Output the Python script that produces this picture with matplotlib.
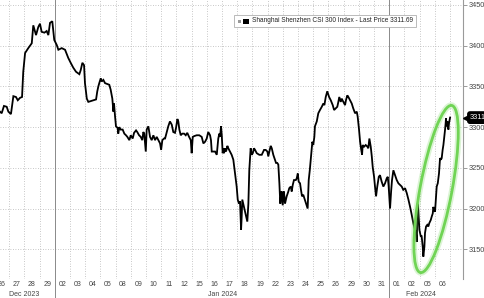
import matplotlib
matplotlib.use('Agg')
import matplotlib.pyplot as plt
from matplotlib.patches import Ellipse, Rectangle
from matplotlib.transforms import IdentityTransform, blended_transform_factory

# ---- data (time in trading-day units, day k spans [k, k+1]) ----
t = [0.40,0.51,0.66,0.84,0.95,1.12,1.28,1.45,1.57,1.72,
     1.85,1.93,2.05,2.26,2.49,2.59,2.77,2.92,3.03,3.14,
     3.32,3.47,3.58,3.69,3.84,3.97,4.13,4.24,4.46,4.68,
     4.89,5.05,5.22,5.40,5.62,5.71,5.82,5.93,5.99,6.11,
     6.21,6.54,6.72,6.80,6.87,6.93,7.03,7.09,7.20,7.31,
     7.46,7.59,7.68,7.79,7.86,7.90,7.97,8.03,8.14,8.18,
     8.25,8.34,8.47,8.58,8.69,8.78,8.91,9.00,9.13,9.22,
     9.35,9.43,9.55,9.66,9.76,9.83,9.89,9.99,10.05,10.16,
     10.27,10.38,10.49,10.60,10.71,10.82,10.93,11.00,11.08,11.19,
     11.26,11.37,11.47,11.58,11.70,11.80,11.91,11.98,12.07,12.13,
     12.20,12.29,12.39,12.51,12.62,12.72,12.84,12.95,13.01,13.08,
     13.18,13.34,13.51,13.67,13.78,13.89,14.00,14.10,14.22,14.28,
     14.33,14.55,14.66,14.76,14.83,14.88,14.94,14.99,15.05,15.09,
     15.14,15.20,15.27,15.36,15.42,15.53,15.64,15.75,15.86,15.97,
     16.04,16.12,16.19,16.26,16.30,16.34,16.45,16.57,16.67,16.74,
     16.80,16.89,16.96,17.03,17.11,17.18,17.29,17.46,17.62,17.77,
     17.88,17.99,18.05,18.12,18.21,18.28,18.38,18.49,18.56,18.64,
     18.71,18.78,18.84,18.89,18.93,19.00,19.07,19.11,19.15,19.26,
     19.37,19.43,19.53,19.59,19.66,19.74,19.86,19.92,19.99,20.05,
     20.14,20.20,20.27,20.35,20.42,20.49,20.58,20.64,20.71,20.78,
     20.84,20.91,20.95,21.01,21.08,21.12,21.24,21.34,21.45,21.57,
     21.67,21.74,21.83,21.93,22.05,22.16,22.29,22.38,22.49,22.59,
     22.66,22.72,22.82,22.88,22.99,23.10,23.16,23.25,23.32,23.43,
     23.54,23.64,23.76,23.87,23.93,24.02,24.09,24.15,24.22,24.26,
     24.35,24.46,24.57,24.63,24.70,24.79,24.86,24.92,25.01,25.07,
     25.14,25.22,25.32,25.40,25.51,25.62,25.73,25.84,25.91,25.97,
     26.01,26.06,26.13,26.19,26.28,26.39,26.50,26.61,26.72,26.83,
     26.93,27.05,27.16,27.27,27.38,27.49,27.59,27.70,27.77,27.82,
     27.88,27.92,27.99,28.08,28.14,28.21,28.25,28.32,28.36,28.43,
     28.51,28.58,28.64,28.74,28.80,28.87,28.91,28.97,29.02,29.07,
     29.13,29.20,29.24,29.28,29.35,29.41,29.46,29.52,29.57,29.63,
     29.68,29.72,29.74,29.79,29.83,29.90,29.94,30.01]

price = [3319,3317,3326,3325,3319,3316,3338,3337,3333,3336,
         3337,3368,3391,3397,3403,3425,3413,3423,3427,3417,
         3416,3418,3413,3428,3430,3407,3401,3395,3397,3395,
         3385,3379,3373,3368,3365,3370,3379,3376,3354,3335,
         3331,3333,3334,3344,3350,3354,3360,3356,3358,3354,
         3353,3352,3346,3335,3319,3329,3313,3301,3299,3292,
         3300,3297,3297,3292,3290,3288,3284,3290,3286,3293,
         3296,3294,3290,3288,3284,3294,3292,3270,3297,3301,
         3288,3284,3290,3284,3288,3284,3280,3272,3284,3286,
         3286,3294,3301,3307,3303,3294,3293,3299,3310,3307,
         3297,3290,3292,3292,3290,3293,3288,3284,3268,3288,
         3289,3290,3290,3288,3280,3282,3286,3294,3290,3284,
         3270,3270,3266,3286,3292,3288,3301,3290,3268,3274,
         3268,3274,3270,3277,3274,3270,3266,3260,3243,3227,
         3211,3206,3209,3174,3190,3211,3202,3192,3184,3206,
         3247,3274,3266,3268,3274,3272,3268,3266,3266,3272,
         3272,3270,3264,3270,3277,3274,3266,3260,3256,3256,
         3254,3231,3206,3217,3221,3204,3221,3215,3206,3215,
         3221,3225,3227,3221,3229,3235,3235,3237,3243,3233,
         3231,3223,3215,3217,3213,3209,3204,3200,3235,3247,
         3260,3274,3282,3278,3288,3301,3307,3317,3321,3325,
         3329,3327,3337,3344,3337,3333,3327,3321,3323,3325,
         3331,3337,3331,3335,3331,3327,3333,3339,3337,3333,
         3329,3323,3317,3319,3313,3297,3282,3274,3266,3278,
         3276,3278,3276,3274,3286,3276,3264,3251,3239,3227,
         3215,3227,3239,3241,3233,3227,3231,3237,3239,3227,
         3215,3200,3221,3235,3247,3241,3235,3231,3229,3227,
         3223,3225,3219,3211,3202,3192,3182,3174,3170,3159,
         3206,3198,3174,3166,3166,3153,3141,3153,3170,3178,
         3180,3178,3182,3186,3190,3194,3202,3198,3196,3211,
         3227,3231,3237,3243,3262,3260,3262,3272,3278,3288,
         3297,3305,3311,3301,3307,3297,3305,3311.69]

day_labels = ['26','27','28','29','02','03','04','05','08','09','10','11','12',
              '15','16','17','18','19','22','23','24','25','26','29','30','31',
              '01','02','05','06']
month_labels = ['Dec 2023', 'Jan 2024', 'Feb 2024']
month_centers = [1.98, 15.07, 28.1]
month_breaks = [4, 26]
yticks = [3150, 3200, 3250, 3300, 3350, 3400, 3450]
last_price = 3311.69
series_name = 'Shanghai Shenzhen CSI 300 Index - Last Price'

plt.rcParams['font.family'] = ['Liberation Sans', 'DejaVu Sans']

W, H = 485, 298
fig = plt.figure(figsize=(W / 100, H / 100), dpi=100)
fig.patch.set_facecolor('white')
ax = fig.add_axes([0, 19 / H, 463 / W, 279 / H])
ax.set_xlim(0.40, 30.86)
ax.set_ylim(3113.5, 3456.1)

for s in ['top', 'left', 'bottom']:
    ax.spines[s].set_visible(False)
ax.spines['right'].set_color('#9a9a9a')
ax.spines['right'].set_linewidth(0.8)

ax.yaxis.tick_right()
ax.set_yticks(yticks)
ax.set_yticklabels([str(v) for v in yticks])
ax.tick_params(axis='y', labelsize=5.3, colors='#9a9a9a', labelcolor='#444444',
               length=3, width=0.7, pad=1.2, direction='out')
ax.set_xticks(range(1, 31))
ax.tick_params(axis='x', length=0, labelbottom=False)
ax.grid(True, which='major', axis='both', linestyle=(0, (1, 2)),
        color='#b5b5b5', linewidth=0.6)
ax.set_axisbelow(True)

xfig = blended_transform_factory(ax.transData, fig.transFigure)
for b in month_breaks:
    ax.plot([b, b], [0, 1], transform=xfig, color='#8a8a8a', lw=0.7,
            clip_on=False, zorder=1)

for i, lab in enumerate(day_labels):
    ax.text(i + 0.5, 1 - 285 / H, lab, transform=xfig, ha='center', va='center',
            fontsize=5, color='#444444')
for lab, c in zip(month_labels, month_centers):
    ax.text(c, 1 - 294.5 / H, lab, transform=xfig, ha='center', va='center',
            fontsize=5, color='#444444')

ax.plot(t, price, color='black', lw=1.3, zorder=3, solid_joinstyle='miter')

# last price tag
yax = blended_transform_factory(ax.transAxes, ax.transData)
ax.plot([1.0 + 3 / 463], [last_price], marker='<', ms=4, color='black',
        transform=yax, clip_on=False, zorder=5)
ax.text(1.0 + 7 / 463, last_price, f'{last_price:.2f}', transform=yax,
        ha='left', va='center', fontsize=5.3, color='white', zorder=6,
        bbox=dict(boxstyle='round,pad=0.3,rounding_size=0.3', fc='black', ec='black'),
        clip_on=False)

# legend box
leg_txt = fig.text(252 / W, 1 - 20.8 / H, f'{series_name} {last_price:.2f}',
                   ha='left', va='center', fontsize=4.7, color='#222222', zorder=10)
fig.canvas.draw()
bb = leg_txt.get_window_extent(fig.canvas.get_renderer())
x0 = 234
x1 = bb.x1 + 3
fig.add_artist(Rectangle((x0, H - 27), x1 - x0, 12, transform=IdentityTransform(),
                         fc='white', ec='#b0b0b0', lw=0.6, zorder=9))
fig.add_artist(Rectangle((237.5, H - 22.5), 3, 3, transform=IdentityTransform(),
                         fc='#999999', ec='none', zorder=10))
fig.add_artist(Rectangle((243, H - 24), 5.5, 5.5, transform=IdentityTransform(),
                         fc='black', ec='none', zorder=10))

# highlight ellipse
cx, cy = ax.transData.transform((29.09, 3224))
for lw_, a_ in [(4.5, 0.25), (2.0, 1.0)]:
    fig.add_artist(Ellipse((cx, cy), width=170, height=32, angle=79.4,
                           transform=IdentityTransform(), fill=False,
                           ec='#70d455', lw=lw_, alpha=a_, zorder=8))

fig.savefig('out.png', dpi=100, facecolor='white')
